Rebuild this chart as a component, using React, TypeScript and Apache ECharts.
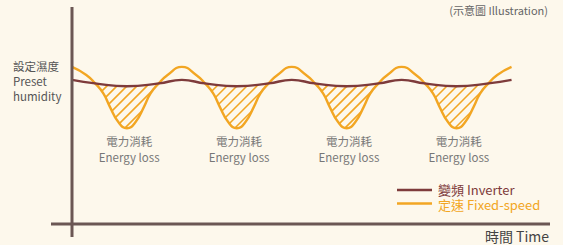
import React, { useEffect, useRef } from 'react';
import * as echarts from 'echarts';

// Fixed-speed (定速) humidity curve
const fixedTime = [
  0, 1.3, 2.1, 2.85, 3.45, 4.2, 5, 5.8, 6.55, 7.15, 7.9, 8.7,
  10, 11.3, 12.1, 12.85, 13.45, 14.2, 15, 15.8, 16.55, 17.15, 17.9, 18.7,
  20, 21.3, 22.1, 22.85, 23.45, 24.2, 25, 25.8, 26.55, 27.15, 27.9, 28.7,
  30, 31.3, 32.1, 32.85, 33.45, 34.2, 35, 35.8, 36.55, 37.15, 37.9, 38.7,
  40,
];
const fixedSpeed = [
  72.4, 68.7, 64.8, 60.2, 54.0, 47.1, 44.1, 47.1, 54.0, 60.2, 64.8, 68.7,
  72.4, 68.7, 64.8, 60.2, 54.0, 47.1, 44.1, 47.1, 54.0, 60.2, 64.8, 68.7,
  72.4, 68.7, 64.8, 60.2, 54.0, 47.1, 44.1, 47.1, 54.0, 60.2, 64.8, 68.7,
  72.4, 68.7, 64.8, 60.2, 54.0, 47.1, 44.1, 47.1, 54.0, 60.2, 64.8, 68.7,
  72.4,
];

// Inverter (變頻) humidity curve
const inverterTime = [0, 2.1, 5, 7.9, 10, 12.1, 15, 17.9, 20, 22.1, 25, 27.9, 30, 32.1, 35, 37.9, 40];
const inverter = [66.4, 64.8, 63.5, 64.8, 66.4, 64.8, 63.5, 64.8, 66.4, 64.8, 63.5, 64.8, 66.4, 64.8, 63.5, 64.8, 66.4];

// Energy-loss intervals (fixed speed below inverter)
const lossStart = [2.1, 12.1, 22.1, 32.1];
const lossEnd = [7.9, 17.9, 27.9, 37.9];
const lossCenter = [5.2, 15.2, 25.2, 35.2];
const lossLabelZh = '電力消耗';
const lossLabelEn = 'Energy loss';

const seriesNames = ['變頻 Inverter', '定速 Fixed-speed'];
const presetLabel = ['設定濕度', 'Preset', 'humidity'];
const timeLabel = '時間 Time';
const noteLabel = '(示意圖 Illustration)';

const BG = '#fdf8ec';
const AXIS = '#6b5754';
const BROWN = '#7e3b3b';
const YELLOW = '#f2a623';
const FONT = '"Noto Sans CJK TC", "Noto Sans", sans-serif';

type P = [number, number];

function sampleSmooth(pts: P[], smooth: number): P[] {
  const out: P[] = [];
  let prevX = 0, prevY = 0, cp0x = 0, cp0y = 0;
  for (let i = 0; i < pts.length; i++) {
    const [x, y] = pts[i];
    if (i === 0) {
      out.push([x, y]);
      cp0x = x; cp0y = y;
    } else {
      let cp1x = x, cp1y = y, nx0 = x, ny0 = y;
      if (i < pts.length - 1) {
        const [nX, nY] = pts[i + 1];
        let vx = nX - prevX, vy = nY - prevY;
        const lp = Math.hypot(x - prevX, y - prevY);
        const ln = Math.hypot(nX - x, nY - y);
        const r = ln / (ln + lp);
        nx0 = x + vx * smooth * r; ny0 = y + vy * smooth * r;
        nx0 = Math.min(nx0, Math.max(nX, x)); ny0 = Math.min(ny0, Math.max(nY, y));
        nx0 = Math.max(nx0, Math.min(nX, x)); ny0 = Math.max(ny0, Math.min(nY, y));
        vx = nx0 - x; vy = ny0 - y;
        cp1x = x - vx * lp / ln; cp1y = y - vy * lp / ln;
        cp1x = Math.min(cp1x, Math.max(prevX, x)); cp1y = Math.min(cp1y, Math.max(prevY, y));
        cp1x = Math.max(cp1x, Math.min(prevX, x)); cp1y = Math.max(cp1y, Math.min(prevY, y));
        vx = x - cp1x; vy = y - cp1y;
        nx0 = x + vx * ln / lp; ny0 = y + vy * ln / lp;
      }
      const N = 24;
      for (let k = 1; k <= N; k++) {
        const t = k / N, u = 1 - t;
        const bx = u * u * u * prevX + 3 * u * u * t * cp0x + 3 * u * t * t * cp1x + t * t * t * x;
        const by = u * u * u * prevY + 3 * u * u * t * cp0y + 3 * u * t * t * cp1y + t * t * t * y;
        out.push([bx, by]);
      }
      cp0x = nx0; cp0y = ny0;
    }
    prevX = x; prevY = y;
  }
  return out;
}

function interp(arr: P[], x: number): number {
  if (x <= arr[0][0]) return arr[0][1];
  for (let i = 1; i < arr.length; i++) {
    if (arr[i][0] >= x) {
      const [x0, y0] = arr[i - 1];
      const [x1, y1] = arr[i];
      if (x1 === x0) return y1;
      return y0 + (y1 - y0) * (x - x0) / (x1 - x0);
    }
  }
  return arr[arr.length - 1][1];
}

export default function App() {
  const ref = useRef<HTMLDivElement>(null);
  useEffect(() => {
    if (!ref.current) return;
    const chart = echarts.init(ref.current, undefined, { renderer: 'svg' });
    const txt = (text: string, x: number, y: number, size: number, fill: string, align = 'left', lh = size) => ({
      type: 'text',
      x, y, z: 20,
      style: {
        text, fill, font: `${size}px ${FONT}`, lineHeight: lh,
        align, textAlign: align, verticalAlign: 'middle', textVerticalAlign: 'middle',
      },
    });
    chart.setOption({
      animation: false,
      backgroundColor: BG,
      grid: { left: 72, right: 13, top: 7, bottom: 21 },
      xAxis: { type: 'value', min: 0, max: 43.5, show: false },
      yAxis: { type: 'value', min: 0, max: 100, show: false },
      series: [
        {
          type: 'custom',
          name: 'loss',
          z: 1,
          silent: true,
          data: lossStart.map((s, i) => [s, lossEnd[i]]),
          renderItem: (params: any, api: any) => {
            const i = params.dataIndex;
            const yPx: P[] = fixedSpeed.map((v, j) => api.coord([fixedTime[j], v]) as P);
            const bPx: P[] = inverter.map((v, j) => api.coord([inverterTime[j], v]) as P);
            const ys = sampleSmooth(yPx, 0.5);
            const bs = sampleSmooth(bPx, 0.5);
            const x0 = api.coord([lossStart[i], 0])[0];
            const x1 = api.coord([lossEnd[i], 0])[0];
            let cMin = Infinity, cMax = -Infinity;
            for (let x = x0; x <= x1; x += 0.5) {
              cMin = Math.min(cMin, x + interp(bs, x));
              cMax = Math.max(cMax, x + interp(ys, x));
            }
            const step = 10;
            const children: any[] = [];
            for (let c = Math.ceil(cMin / step) * step + 3; c <= cMax; c += step) {
              let first: number | null = null, last = 0;
              for (let x = x0; x <= x1; x += 0.25) {
                const y = c - x;
                if (y >= interp(bs, x) && y <= interp(ys, x)) {
                  if (first === null) first = x;
                  last = x;
                }
              }
              if (first !== null && last - first > 0.8) {
                children.push({
                  type: 'line',
                  shape: { x1: first, y1: c - first, x2: last, y2: c - last },
                  style: { stroke: YELLOW, lineWidth: 1.6 },
                });
              }
            }
            const cx = api.coord([lossCenter[i], 0])[0];
            children.push({
              type: 'text', x: cx, y: 141,
              style: { text: lossLabelZh, fill: '#777', font: `11.5px ${FONT}`, lineHeight: 12, align: 'center', textAlign: 'center', verticalAlign: 'middle', textVerticalAlign: 'middle' },
            });
            children.push({
              type: 'text', x: cx, y: 157,
              style: { text: lossLabelEn, fill: '#777', font: `11.5px ${FONT}`, lineHeight: 12, align: 'center', textAlign: 'center', verticalAlign: 'middle', textVerticalAlign: 'middle' },
            });
            return { type: 'group', children };
          },
        },
        {
          type: 'line',
          name: seriesNames[1],
          z: 2,
          smooth: 0.5,
          symbol: 'none',
          showSymbol: false,
          lineStyle: { color: YELLOW, width: 2.4 },
          data: fixedTime.map((t, i) => [t, fixedSpeed[i]]),
        },
        {
          type: 'line',
          name: seriesNames[0],
          z: 3,
          smooth: 0.5,
          symbol: 'none',
          showSymbol: false,
          lineStyle: { color: BROWN, width: 2.4 },
          data: inverterTime.map((t, i) => [t, inverter[i]]),
        },
      ],
      graphic: [
        { type: 'line', z: 10, shape: { x1: 72, y1: 7, x2: 72, y2: 237 }, style: { stroke: AXIS, lineWidth: 3 } },
        { type: 'line', z: 10, shape: { x1: 51, y1: 224, x2: 550, y2: 224 }, style: { stroke: AXIS, lineWidth: 3 } },
        txt(noteLabel, 548, 10, 11, '#666', 'right'),
        txt(presetLabel[0], 13, 66, 11.5, '#555', 'left', 12),
        txt(presetLabel[1], 13, 81, 11.5, '#555', 'left', 12),
        txt(presetLabel[2], 13, 96, 11.5, '#555', 'left', 12),
        { type: 'line', z: 10, shape: { x1: 397, y1: 190, x2: 432, y2: 190 }, style: { stroke: BROWN, lineWidth: 2.4 } },
        { type: 'line', z: 10, shape: { x1: 397, y1: 203.5, x2: 432, y2: 203.5 }, style: { stroke: YELLOW, lineWidth: 2.4 } },
        txt(seriesNames[0], 438, 189, 13, BROWN, 'left', 12),
        txt(seriesNames[1], 438, 204.5, 13, YELLOW, 'left', 12),
        txt(timeLabel, 549, 235.5, 14, '#444', 'right', 14),
      ],
    });
    return () => chart.dispose();
  }, []);
  return (
    <div
      ref={ref}
      style={{ position: 'fixed', left: 0, top: 0, width: 563, height: 245, background: BG }}
    />
  );
}
